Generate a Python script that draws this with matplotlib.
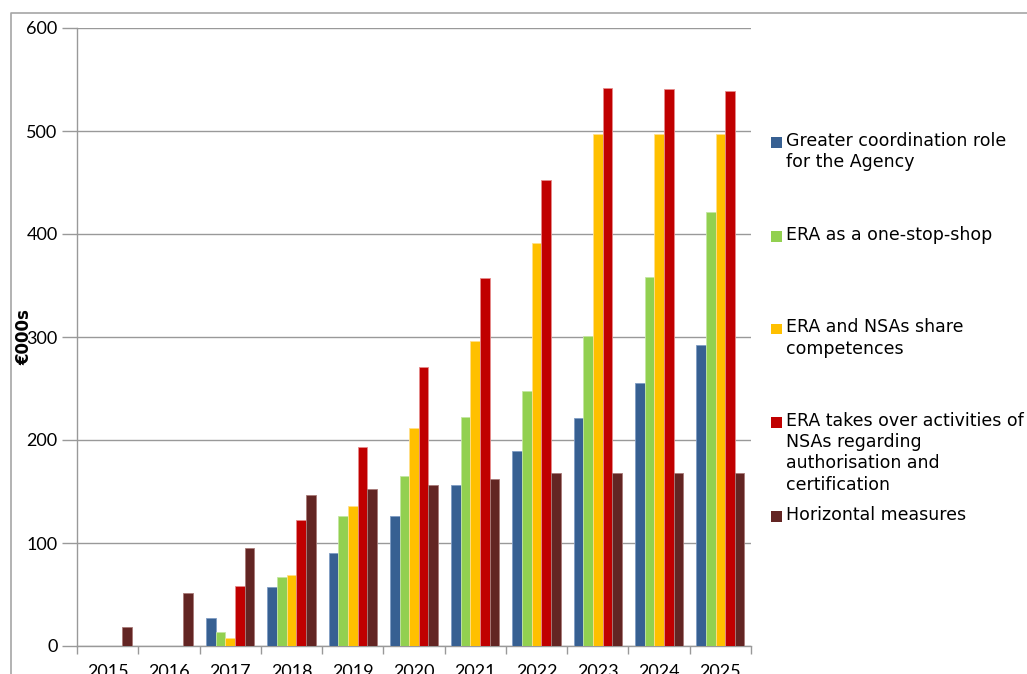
import matplotlib
matplotlib.use("Agg")
import matplotlib.pyplot as plt
import numpy as np
from matplotlib.lines import Line2D
from matplotlib.patches import Rectangle

years = ["2015", "2016", "2017", "2018", "2019", "2020", "2021", "2022", "2023", "2024", "2025"]
series_names = [
    "Greater coordination role\nfor the Agency",
    "ERA as a one-stop-shop",
    "ERA and NSAs share\ncompetences",
    "ERA takes over activities of\nNSAs regarding\nauthorisation and\ncertification",
    "Horizontal measures",
]
coordination = [0, 0, 27, 57, 90, 126, 156, 189, 221, 255, 292]
one_stop = [0, 0, 14, 67, 126, 165, 222, 248, 301, 358, 421]
share = [0, 0, 8, 69, 136, 212, 296, 391, 497, 497, 497]
takes_over = [0, 0, 58, 122, 193, 271, 357, 452, 542, 541, 539]
horizontal = [18, 51, 95, 147, 152, 156, 162, 168, 168, 168, 168]
colors = ["#376092", "#92d050", "#ffc000", "#c00000", "#632523"]
edges = ["#7f9cc4", "#c4e6a2", "#ffe08a", "#e58a8a", "#a87a78"]

W, H = 1027, 674
fig = plt.figure(figsize=(W / 100, H / 100), dpi=100)
ax = fig.add_axes([77 / W, 1 - 646 / H, (751 - 77) / W, (646 - 28) / H])

data = [coordination, one_stop, share, takes_over, horizontal]
x = np.arange(len(years))
bw = 0.157
for i, (vals, c, e) in enumerate(zip(data, colors, edges)):
    ax.bar(x + (i - 2) * bw, vals, width=bw, color=c, edgecolor=e, linewidth=0.6, zorder=3)

ax.set_xlim(-0.5, len(years) - 0.5)
ax.set_ylim(0, 600)
ax.set_yticks(range(0, 601, 100))
ax.set_yticklabels([str(v) for v in range(0, 601, 100)], fontfamily="Lato", fontsize=13)
ax.yaxis.grid(True, color="#999999", linewidth=1.0, zorder=0)
ax.tick_params(axis="y", length=11, width=1.0, color="#999999", pad=3)
ax.set_xticks(x)
ax.set_xticklabels(years, fontfamily="Lato", fontsize=13)
ax.tick_params(axis="x", which="major", length=0, pad=13)
ax.set_xticks(np.arange(-0.5, len(years), 1.0), minor=True)
ax.tick_params(axis="x", which="minor", length=6, width=1.0, color="#999999")
for s in ["top", "right"]:
    ax.spines[s].set_visible(False)
for s in ["left", "bottom"]:
    ax.spines[s].set_color("#999999")
    ax.spines[s].set_linewidth(1.0)

fig.text(24 / W, 1 - 337 / H, "€000s", rotation=90, ha="center", va="center",
         fontsize=12, fontweight="bold", fontfamily="DejaVu Sans")

# outer frame
fig.add_artist(Line2D([11 / W, 11 / W, 1.0], [0.0, 1 - 13 / H, 1 - 13 / H],
                      transform=fig.transFigure, color="#a6a6a6", linewidth=1.2))

# legend
entry_y = [142, 236, 329, 422, 516]
for name, c, yy in zip(series_names, colors, entry_y):
    fig.add_artist(Rectangle((771 / W, 1 - (yy + 5.5) / H), 11 / W, 11 / H,
                             transform=fig.transFigure, facecolor=c, edgecolor="none"))
    fig.text(786 / W, 1 - (yy - 10.5) / H, name, ha="left", va="top", fontsize=12.5,
             fontfamily="DejaVu Sans", linespacing=1.24)

fig.savefig("out.png", dpi=100)
